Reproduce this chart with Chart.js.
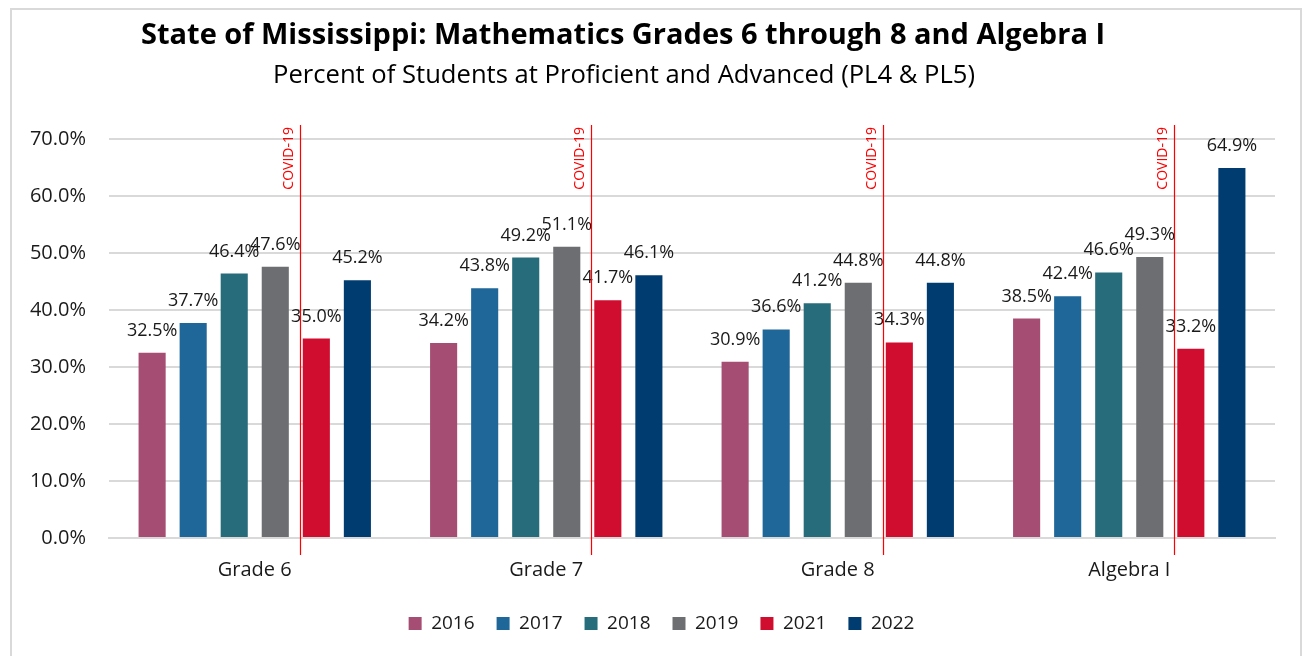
<!DOCTYPE html>
<html><head><meta charset="utf-8">
<script src="https://cdn.jsdelivr.net/npm/chart.js@4/dist/chart.umd.min.js"></script>
<style>
html,body{margin:0;padding:0;background:#fff;overflow:hidden;}
#box{position:absolute;left:10px;top:8px;width:1292px;height:660px;border:2px solid #d9d9d9;box-sizing:border-box;}
canvas{display:block;}
</style></head>
<body>
<div id="box"><canvas id="c" width="1288" height="656"></canvas></div>
<script>
const categories = ["Grade 6", "Grade 7", "Grade 8", "Algebra I"];
const years = ["2016", "2017", "2018", "2019", "2021", "2022"];
const v2016 = [32.5, 34.2, 30.9, 38.5];
const v2017 = [37.7, 43.8, 36.6, 42.4];
const v2018 = [46.4, 49.2, 41.2, 46.6];
const v2019 = [47.6, 51.1, 44.8, 49.3];
const v2021 = [35.0, 41.7, 34.3, 33.2];
const v2022 = [45.2, 46.1, 44.8, 64.9];
const yTicks = [0, 10, 20, 30, 40, 50, 60, 70];
const titleText = "State of Mississippi: Mathematics Grades 6 through 8 and Algebra I";
const subtitleText = "Percent of Students at Proficient and Advanced (PL4 & PL5)";
const covidLabel = "COVID-19";

const colors = ["#A64D73", "#1F6699", "#276C7B", "#6D6E71", "#D00C2F", "#013C71"];
const series = [v2016, v2017, v2018, v2019, v2021, v2022];
const FONT = "'Open Sans', 'Liberation Sans', sans-serif";

const extras = {
  id: 'extras',
  afterLayout(chart) {
    if (chart.legend) { chart.legend.left += 18; chart.legend.right += 18; }
  },
  afterDatasetsDraw(chart) {
    const ctx = chart.ctx;
    const y = chart.scales.y;
    // data labels
    ctx.save();
    ctx.font = "18px " + FONT;
    ctx.fillStyle = "#1a1a1a";
    ctx.textAlign = "center";
    ctx.textBaseline = "alphabetic";
    chart.data.datasets.forEach((ds, i) => {
      const meta = chart.getDatasetMeta(i);
      meta.data.forEach((bar, j) => {
        ctx.fillText(ds.data[j].toFixed(1) + "%", bar.x, bar.y - 17);
      });
    });
    ctx.restore();
    // COVID lines
    const m4 = chart.getDatasetMeta(4);
    ctx.save();
    m4.data.forEach((b) => {
      const x = Math.round(b.x - b.width / 2 - 3) + 0.5;
      ctx.strokeStyle = "#FF0000";
      ctx.lineWidth = 1.2;
      ctx.beginPath();
      ctx.moveTo(x, y.getPixelForValue(70) - 14);
      ctx.lineTo(x, y.getPixelForValue(0) + 17);
      ctx.stroke();
      ctx.save();
      ctx.translate(x - 4, y.getPixelForValue(70) - 12);
      ctx.rotate(-Math.PI / 2);
      ctx.font = "14px " + FONT;
      ctx.fillStyle = "#FF0000";
      ctx.textAlign = "right";
      ctx.textBaseline = "bottom";
      ctx.fillText(covidLabel, 0, 0);
      ctx.restore();
    });
    ctx.restore();
    // titles
    ctx.save();
    ctx.fillStyle = "#000";
    ctx.textAlign = "center";
    ctx.textBaseline = "middle";
    ctx.font = "bold 29px " + FONT;
    ctx.fillText(titleText, 611, 26);
    ctx.font = "25.6px " + FONT;
    ctx.fillText(subtitleText, 612, 66);
    ctx.restore();
  }
};

new Chart(document.getElementById('c'), {
  type: 'bar',
  data: {
    labels: categories,
    datasets: years.map((yr, i) => ({
      label: yr,
      data: series[i],
      backgroundColor: colors[i],
      borderWidth: 0,
      categoryPercentage: 0.845,
      barPercentage: 0.66
    }))
  },
  options: {
    responsive: false,
    animation: false,
    layout: { padding: { top: 129, right: 25, left: 0, bottom: 23 } },
    plugins: {
      legend: {
        position: 'bottom',
        labels: {
          font: { family: FONT, size: 19 },
          color: "#1a1a1a",
          boxWidth: 13,
          boxHeight: 13,
          padding: 22
        }
      },
      tooltip: { enabled: false }
    },
    scales: {
      x: {
        afterFit(s) { s.height = s.height - 10; },
        grid: { display: false, drawTicks: false },
        border: { display: true, color: "#d9d9d9", width: 2 },
        ticks: { font: { family: FONT, size: 20 }, color: "#1a1a1a", padding: 20 }
      },
      y: {
        min: 0, max: 70,
        afterFit(s) { s.width = 97; },
        afterBuildTicks(s) { s.ticks = yTicks.map(v => ({ value: v })); },
        grid: { color: "#d9d9d9", lineWidth: 2, drawTicks: false },
        border: { display: false },
        ticks: {
          font: { family: FONT, size: 20 }, color: "#1a1a1a", padding: 23,
          callback: v => v.toFixed(1) + "%"
        }
      }
    }
  },
  plugins: [extras]
});
</script>
</body></html>
